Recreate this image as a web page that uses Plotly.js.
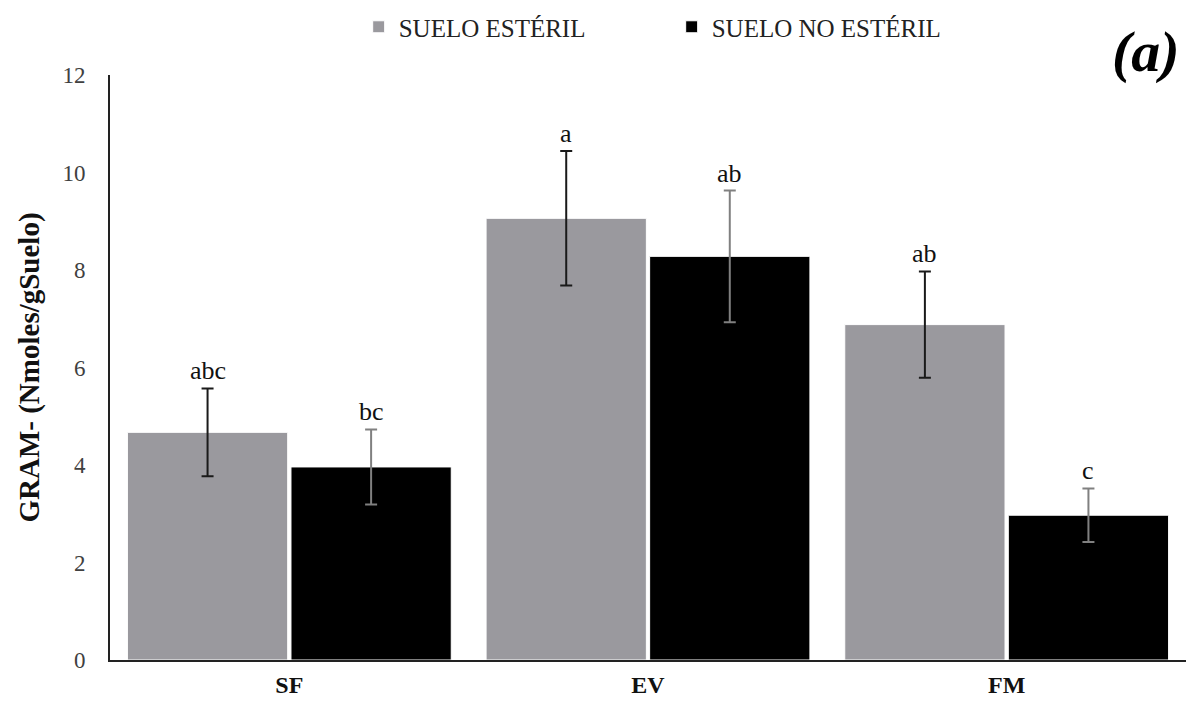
<!DOCTYPE html>
<html>
<head>
<meta charset="utf-8">
<script src="https://cdn.plot.ly/plotly-3.0.1.min.js"></script>
<style>html,body{margin:0;padding:0;background:#fff;}#chart{width:1186px;height:704px;}</style>
</head>
<body>
<div id="chart"></div>
<script>
var categories = ['SF', 'EV', 'FM'];
var seriesNames = ['SUELO ESTÉRIL', 'SUELO NO ESTÉRIL'];
var esterilValues = [4.67, 9.06, 6.88];
var esterilErrors = [0.90, 1.38, 1.09];
var noEsterilValues = [3.96, 8.28, 2.97];
var noEsterilErrors = [0.77, 1.35, 0.55];
var esterilLetters = ['abc', 'a', 'ab'];
var noEsterilLetters = ['bc', 'ab', 'c'];
var yTicks = [0, 2, 4, 6, 8, 10, 12];

var serif = 'Liberation Serif, Times New Roman, serif';
var bargap = 0.088;

var traces = [
  {
    type: 'bar', name: seriesNames[0], x: categories, y: esterilValues,
    marker: {color: '#9a999e', line: {color: '#ffffff', width: 1}},
    error_y: {type: 'data', array: esterilErrors, visible: true, color: '#1a1a1a', thickness: 2, width: 6}
  },
  {
    type: 'bar', name: seriesNames[1], x: categories, y: noEsterilValues,
    marker: {color: '#000000', line: {color: '#ffffff', width: 1}},
    error_y: {type: 'data', array: noEsterilErrors, visible: true, color: '#808080', thickness: 2, width: 6}
  }
];

var annotations = [];
var sets = [[esterilValues, esterilErrors, esterilLetters, -1], [noEsterilValues, noEsterilErrors, noEsterilLetters, 1]];
sets.forEach(function (s) {
  categories.forEach(function (c, i) {
    annotations.push({
      xref: 'x', yref: 'y', x: i + s[3] * (1 - bargap) / 4, y: s[0][i] + s[1][i],
      text: s[2][i], showarrow: false, yanchor: 'bottom', yshift: 1,
      font: {family: serif, size: 26, color: '#111111'}
    });
  });
});
annotations.push({
  xref: 'paper', yref: 'paper', x: 0.996, y: 1.04, xanchor: 'right', yanchor: 'middle',
  text: '<b><i>(a)</i></b>', showarrow: false,
  font: {family: serif, size: 58, color: '#000000'}
});

var layout = {
  width: 1186, height: 704,
  margin: {l: 110, r: 0, t: 75, b: 44},
  paper_bgcolor: '#ffffff', plot_bgcolor: '#ffffff',
  barmode: 'group', bargap: bargap, bargroupgap: 0.02,
  showlegend: true,
  legend: {
    orientation: 'h', x: 0.522, xanchor: 'center', y: 1.082, yanchor: 'middle',
    font: {family: serif, size: 25, color: '#222222'},
    entrywidth: 268, entrywidthmode: 'pixels', bgcolor: 'rgba(0,0,0,0)'
  },
  xaxis: {
    type: 'category', range: [-0.5, 2.5], showline: true, linecolor: '#222222', linewidth: 2,
    ticks: '', showgrid: false, zeroline: false, ticklabelstandoff: 2,
    tickfont: {family: serif, size: 24, color: '#111111', weight: 'bold'}
  },
  yaxis: {
    range: [0, 12], tickvals: yTicks, ticktext: yTicks.map(String),
    showline: true, linecolor: '#222222', linewidth: 2, ticks: '', showgrid: false, zeroline: false,
    ticklabelstandoff: 18,
    tickfont: {family: serif, size: 23, color: '#404040'},
    title: {text: '<b>GRAM- (Nmoles/gSuelo)</b>', standoff: 14, font: {family: serif, size: 29, color: '#111111'}}
  },
  annotations: annotations
};

Plotly.newPlot('chart', traces, layout, {displayModeBar: false, staticPlot: true});
</script>
</body>
</html>
